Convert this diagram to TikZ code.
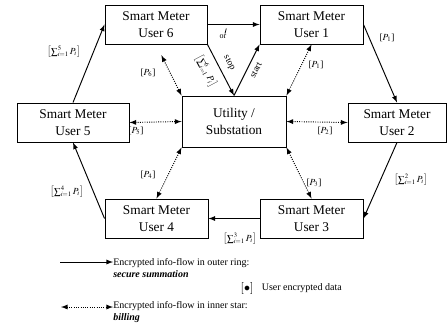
\documentclass[tikz,border=0pt]{standalone}
\usepackage{mathptmx}
\usepackage[no-math]{fontspec}
\setmainfont{Liberation Serif}
\usetikzlibrary{arrows,positioning}

\tikzset{
  meter/.style={draw, line width=0.25mm, align=center, inner sep=0pt,
    minimum width=77.25pt, minimum height=29.25pt,
    font=\fontsize{10}{12.75}\selectfont},
  ring/.style={-latex, line width=0.25mm},
  star/.style={latex-latex, densely dotted, line width=0.25mm},
  enc/.style={font=\fontsize{7}{8}\selectfont, inner sep=0pt},
  legend/.style={font=\fontsize{7.5}{9}\selectfont, align=left, inner sep=0pt, anchor=west},
}

\begin{document}
\begin{tikzpicture}[x=0.75pt,y=-0.75pt]
  \useasboundingbox (0,0) rectangle (448,322);

  % meters round the utility
  \node[meter, minimum width=76.5pt] (u6) at (156,24.5) {Smart Meter\\User 6};
  \node[meter] (u1) at (311.5,24.5) {Smart Meter\\User 1};
  \node[meter, minimum width=84pt] (u5) at (73,122.5) {Smart Meter\\User 5};
  \node[meter, minimum width=78pt, minimum height=38.25pt] (util) at (234,121.5) {Utility /\\Substation};
  \node[meter, minimum width=73.5pt] (u2) at (397,122.5) {Smart Meter\\User 2};
  \node[meter] (u4) at (156.5,218.5) {Smart Meter\\User 4};
  \node[meter] (u3) at (311.5,218.5) {Smart Meter\\User 3};

  % outer ring
  \draw[ring] (u6.east) -- (u1.west);
  \draw[ring] (u6.south east) -- (util.north);
  \draw[ring] (util.north) -- (u1.south west);
  \draw[ring] (u1.east) -- (u2.north);
  \draw[ring] (u2.south) -- (u3.east);
  \draw[ring] (u3.west) -- (u4.east);
  \draw[ring] (u4.west) -- (u5.south);
  \draw[ring] (u5.north) -- (u6.west);

  % inner star
  \draw[star, shorten <=9pt] (u6.south) -- (util.north west);
  \draw[star] (u1.south) -- (util.north east);
  \draw[star] (u5.east) -- (util.west);
  \draw[star] (util.east) -- (u2.west);
  \draw[star] (util.south west) -- (u4.north);
  \draw[star] (util.south east) -- (u3.north);

  % labels
  \node[enc] (p6) at (148,73) {[$P_6$]};
  \node[enc] (p1in) at (316,65) {[$P_1$]};
  \node[enc] (p5) at (136,131) {[$P_5$]};
  \node[enc] (p2) at (325,131) {[$P_2$]};
  \node[enc] (p4) at (148,175) {[$P_4$]};
  \node[enc] (p3) at (314,183) {[$P_3$]};
  \node[enc] (p1out) at (387,38) {[$P_1$]};
  \node[enc] (s2) at (411,180) {$\left[\sum_{i=1}^{2}P_i\right]$};
  \node[enc] (s3) at (240,239) {$\left[\sum_{i=1}^{3}P_i\right]$};
  \node[enc] (s4) at (67,192) {$\left[\sum_{i=1}^{4}P_i\right]$};
  \node[enc] (s5) at (64,52) {$\left[\sum_{i=1}^{5}P_i\right]$};
  \node[enc, rotate=-62] (s6) at (206,71) {$\left[\sum_{i=1}^{6}P_i\right]$};
  \node[enc, rotate=-62] (stop) at (229,63) {stop};
  \node[enc, rotate=63] (start) at (256,70) {start};
  \node[enc, font=\fontsize{6}{7}\selectfont] (orlbl) at (223,37) {or};
  \draw[line width=0.2mm] ([xshift=1.5pt,yshift=1pt]orlbl.north) -- ++(1.3,-5);

  % legend
  \node[legend] (leg1) at (113,268) {Encrypted info-flow in outer ring:\\\textbf{\textit{secure summation}}};
  \coordinate (leg1s) at (60,262);
  \draw[ring] (leg1s) -- (leg1s -| leg1.west);
  \node[legend] (leg2) at (113,312.5) {Encrypted info-flow in inner star:\\\textbf{\textit{billing}}};
  \coordinate (leg2s) at (61,307);
  \draw[star] (leg2s) -- (leg2s -| leg2.west);
  \node[inner sep=0pt, font=\fontsize{9}{10}\selectfont] (dot) at (247,288) {$\left[\bullet\right]$};
  \node[legend, right=6pt of dot] (leg3) {User encrypted data};
\end{tikzpicture}
\end{document}
